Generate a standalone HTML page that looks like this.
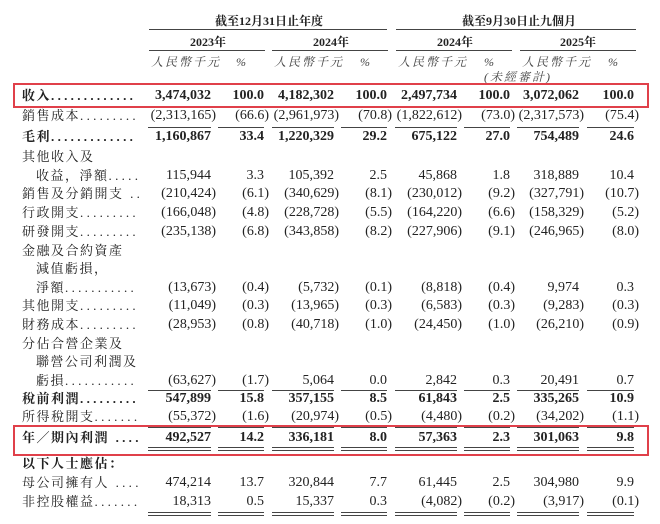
<!DOCTYPE html>
<html><head><meta charset="utf-8"><style>
body{margin:0;background:#fff;}
#w{position:relative;width:660px;height:524px;overflow:hidden;background:#fff;font-family:"Liberation Serif","Noto Serif CJK SC","Noto Sans CJK TC",serif;font-size:14px;color:#222;}
.r{position:absolute;left:0;width:660px;height:20px;line-height:20px;}
.r span{position:absolute;white-space:nowrap;}
.l{left:22px;letter-spacing:1.5px;font-size:13px;}
.l2{left:36px;letter-spacing:1.5px;font-size:13px;}
.d{letter-spacing:3.3px;position:static !important;font-size:13px;}
.c1{right:449px}.c2{right:396px}.c3{right:326px}.c4{right:273px}.c5{right:203px}.c6{right:150px}.c7{right:81px}.c8{right:26px}
i{font-style:normal;margin-right:-5px;}
.b{font-weight:bold;}
.ln{position:absolute;height:1px;background:#444;}
.box{position:absolute;border:2px solid #e0404a;left:13px;width:632px;}
.h{position:absolute;font-weight:bold;font-size:12px;line-height:14px;}
.it{position:absolute;font-style:italic;font-size:12px;line-height:14px;color:#444;letter-spacing:2px;}
.u{position:absolute;left:0;top:0;width:660px;height:4px;}
.u div{position:absolute;top:0;height:1px;background:#444;}
.u.dbl div{height:4px;background:none;border-top:1px solid #444;border-bottom:1px solid #444;box-sizing:border-box;}
.s1{left:148px;width:63px}.s2{left:218px;width:46px}.s3{left:272px;width:62px}.s4{left:341px;width:46px}.s5{left:395px;width:62px}.s6{left:464px;width:46px}.s7{left:517px;width:62px}.s8{left:587px;width:47px}
</style></head><body><div id="w">
<div class="h" style="left:215px;top:14px">截至12月31日止年度</div>
<div class="h" style="left:462px;top:14px">截至9月30日止九個月</div>
<div class="ln" style="left:149px;width:238px;top:29px"></div>
<div class="ln" style="left:396px;width:240px;top:29px"></div>
<div class="h" style="left:190px;top:35px">2023年</div>
<div class="h" style="left:313px;top:35px">2024年</div>
<div class="h" style="left:437px;top:35px">2024年</div>
<div class="h" style="left:560px;top:35px">2025年</div>
<div class="ln" style="left:149px;width:116px;top:50px"></div>
<div class="ln" style="left:272px;width:116px;top:50px"></div>
<div class="ln" style="left:396px;width:116px;top:50px"></div>
<div class="ln" style="left:520px;width:116px;top:50px"></div>
<div class="it" style="left:151px;top:55px">人民幣千元</div><div class="it" style="left:236px;top:55px">%</div>
<div class="it" style="left:274px;top:55px">人民幣千元</div><div class="it" style="left:360px;top:55px">%</div>
<div class="it" style="left:398px;top:55px">人民幣千元</div><div class="it" style="left:484px;top:55px">%</div>
<div class="it" style="left:522px;top:55px">人民幣千元</div><div class="it" style="left:608px;top:55px">%</div>
<div class="it" style="left:484px;top:70px">(未經審計)</div>

<div class="box" style="top:83px;height:21px"></div>
<div class="box" style="top:425px;height:27px"></div>

<div class="r b" style="top:86px"><span class="l">收入<b class="d">.............</b></span><span class="c1">3,474,032</span><span class="c2">100.0</span><span class="c3">4,182,302</span><span class="c4">100.0</span><span class="c5">2,497,734</span><span class="c6">100.0</span><span class="c7">3,072,062</span><span class="c8">100.0</span></div>
<div class="r" style="top:106px"><span class="l">銷售成本<span class="d">.........</span></span><span class="c1">(2,313,165<i>)</i></span><span class="c2">(66.6<i>)</i></span><span class="c3">(2,961,973<i>)</i></span><span class="c4">(70.8<i>)</i></span><span class="c5">(1,822,612<i>)</i></span><span class="c6">(73.0<i>)</i></span><span class="c7">(2,317,573<i>)</i></span><span class="c8">(75.4<i>)</i></span></div>
<div class="u" style="top:127px"><div class="s1"></div><div class="s2"></div><div class="s3"></div><div class="s4"></div><div class="s5"></div><div class="s6"></div><div class="s7"></div><div class="s8"></div></div>
<div class="r b" style="top:127px"><span class="l">毛利<span class="d">.............</span></span><span class="c1">1,160,867</span><span class="c2">33.4</span><span class="c3">1,220,329</span><span class="c4">29.2</span><span class="c5">675,122</span><span class="c6">27.0</span><span class="c7">754,489</span><span class="c8">24.6</span></div>
<div class="r" style="top:147px"><span class="l">其他收入及</span></div>
<div class="r" style="top:166px"><span class="l2">收益，淨額<span class="d">.....</span></span><span class="c1">115,944</span><span class="c2">3.3</span><span class="c3">105,392</span><span class="c4">2.5</span><span class="c5">45,868</span><span class="c6">1.8</span><span class="c7">318,889</span><span class="c8">10.4</span></div>
<div class="r" style="top:184px"><span class="l">銷售及分銷開支<span class="d"> ..</span></span><span class="c1">(210,424<i>)</i></span><span class="c2">(6.1<i>)</i></span><span class="c3">(340,629<i>)</i></span><span class="c4">(8.1<i>)</i></span><span class="c5">(230,012<i>)</i></span><span class="c6">(9.2<i>)</i></span><span class="c7">(327,791<i>)</i></span><span class="c8">(10.7<i>)</i></span></div>
<div class="r" style="top:203px"><span class="l">行政開支<span class="d">.........</span></span><span class="c1">(166,048<i>)</i></span><span class="c2">(4.8<i>)</i></span><span class="c3">(228,728<i>)</i></span><span class="c4">(5.5<i>)</i></span><span class="c5">(164,220<i>)</i></span><span class="c6">(6.6<i>)</i></span><span class="c7">(158,329<i>)</i></span><span class="c8">(5.2<i>)</i></span></div>
<div class="r" style="top:222px"><span class="l">研發開支<span class="d">.........</span></span><span class="c1">(235,138<i>)</i></span><span class="c2">(6.8<i>)</i></span><span class="c3">(343,858<i>)</i></span><span class="c4">(8.2<i>)</i></span><span class="c5">(227,906<i>)</i></span><span class="c6">(9.1<i>)</i></span><span class="c7">(246,965<i>)</i></span><span class="c8">(8.0<i>)</i></span></div>
<div class="r" style="top:241px"><span class="l">金融及合約資產</span></div>
<div class="r" style="top:259px"><span class="l2">減值虧損，</span></div>
<div class="r" style="top:278px"><span class="l2">淨額<span class="d">...........</span></span><span class="c1">(13,673<i>)</i></span><span class="c2">(0.4<i>)</i></span><span class="c3">(5,732<i>)</i></span><span class="c4">(0.1<i>)</i></span><span class="c5">(8,818<i>)</i></span><span class="c6">(0.4<i>)</i></span><span class="c7">9,974</span><span class="c8">0.3</span></div>
<div class="r" style="top:296px"><span class="l">其他開支<span class="d">.........</span></span><span class="c1">(11,049<i>)</i></span><span class="c2">(0.3<i>)</i></span><span class="c3">(13,965<i>)</i></span><span class="c4">(0.3<i>)</i></span><span class="c5">(6,583<i>)</i></span><span class="c6">(0.3<i>)</i></span><span class="c7">(9,283<i>)</i></span><span class="c8">(0.3<i>)</i></span></div>
<div class="r" style="top:315px"><span class="l">財務成本<span class="d">.........</span></span><span class="c1">(28,953<i>)</i></span><span class="c2">(0.8<i>)</i></span><span class="c3">(40,718<i>)</i></span><span class="c4">(1.0<i>)</i></span><span class="c5">(24,450<i>)</i></span><span class="c6">(1.0<i>)</i></span><span class="c7">(26,210<i>)</i></span><span class="c8">(0.9<i>)</i></span></div>
<div class="r" style="top:334px"><span class="l">分佔合營企業及</span></div>
<div class="r" style="top:352px"><span class="l2">聯營公司利潤及</span></div>
<div class="r" style="top:371px"><span class="l2">虧損<span class="d">...........</span></span><span class="c1">(63,627<i>)</i></span><span class="c2">(1.7<i>)</i></span><span class="c3">5,064</span><span class="c4">0.0</span><span class="c5">2,842</span><span class="c6">0.3</span><span class="c7">20,491</span><span class="c8">0.7</span></div>
<div class="u" style="top:390px"><div class="s1"></div><div class="s2"></div><div class="s3"></div><div class="s4"></div><div class="s5"></div><div class="s6"></div><div class="s7"></div><div class="s8"></div></div>
<div class="r b" style="top:389px"><span class="l">稅前利潤<span class="d">.........</span></span><span class="c1">547,899</span><span class="c2">15.8</span><span class="c3">357,155</span><span class="c4">8.5</span><span class="c5">61,843</span><span class="c6">2.5</span><span class="c7">335,265</span><span class="c8">10.9</span></div>
<div class="r" style="top:407px"><span class="l">所得稅開支<span class="d">.......</span></span><span class="c1">(55,372<i>)</i></span><span class="c2">(1.6<i>)</i></span><span class="c3">(20,974<i>)</i></span><span class="c4">(0.5<i>)</i></span><span class="c5">(4,480<i>)</i></span><span class="c6">(0.2<i>)</i></span><span class="c7">(34,202<i>)</i></span><span class="c8">(1.1<i>)</i></span></div>
<div class="u" style="top:427px"><div class="s1"></div><div class="s2"></div><div class="s3"></div><div class="s4"></div><div class="s5"></div><div class="s6"></div><div class="s7"></div><div class="s8"></div></div>
<div class="r b" style="top:428px"><span class="l">年／期內利潤<span class="d"> ....</span></span><span class="c1">492,527</span><span class="c2">14.2</span><span class="c3">336,181</span><span class="c4">8.0</span><span class="c5">57,363</span><span class="c6">2.3</span><span class="c7">301,063</span><span class="c8">9.8</span></div>
<div class="u dbl" style="top:447px"><div class="s1"></div><div class="s2"></div><div class="s3"></div><div class="s4"></div><div class="s5"></div><div class="s6"></div><div class="s7"></div><div class="s8"></div></div>
<div class="r b" style="top:454px"><span class="l">以下人士應佔：</span></div>
<div class="r" style="top:473px"><span class="l">母公司擁有人<span class="d"> ....</span></span><span class="c1">474,214</span><span class="c2">13.7</span><span class="c3">320,844</span><span class="c4">7.7</span><span class="c5">61,445</span><span class="c6">2.5</span><span class="c7">304,980</span><span class="c8">9.9</span></div>
<div class="r" style="top:492px"><span class="l">非控股權益<span class="d">.......</span></span><span class="c1">18,313</span><span class="c2">0.5</span><span class="c3">15,337</span><span class="c4">0.3</span><span class="c5">(4,082<i>)</i></span><span class="c6">(0.2<i>)</i></span><span class="c7">(3,917<i>)</i></span><span class="c8">(0.1<i>)</i></span></div>
<div class="u dbl" style="top:512px"><div class="s1"></div><div class="s2"></div><div class="s3"></div><div class="s4"></div><div class="s5"></div><div class="s6"></div><div class="s7"></div><div class="s8"></div></div>
</div></body></html>
